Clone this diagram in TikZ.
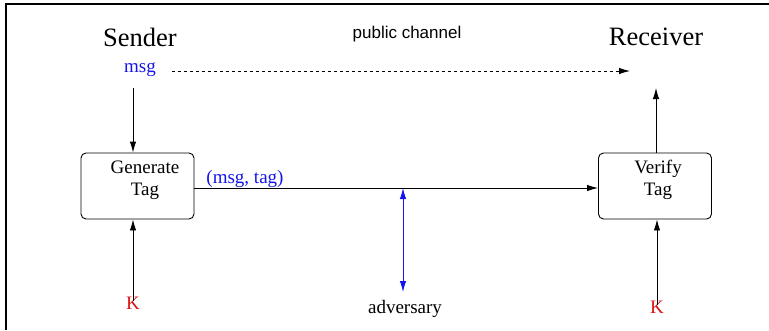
\documentclass[tikz,border=0pt]{standalone}
\usepackage{fontspec}
\setmainfont{Liberation Serif}
\newfontfamily\helv{Liberation Sans}
\usetikzlibrary{arrows.meta}
\definecolor{myblue}{RGB}{20,20,235}
\definecolor{myred}{RGB}{220,20,20}
\tikzset{
  box/.style={draw, rounded corners=5pt, line width=0.9pt, minimum width=113pt, minimum height=66pt, inner sep=0pt},
  txt/.style={font=\fontsize{19}{22}\selectfont, inner sep=0pt, align=center},
  big/.style={font=\fontsize{26.5}{30}\selectfont, inner sep=0pt},
  tip/.style={Latex[length=11pt,width=6.5pt]},
  arr/.style={line width=0.9pt, -{Latex[length=11pt,width=6.5pt]}},
}
\begin{document}
\begin{tikzpicture}[x=1pt,y=-1pt]
\useasboundingbox (0,0) rectangle (769,330);
\draw[line width=1.2pt] (6,330) -- (6,4) -- (769,4);
\node[big] (sender) at (140,37) {Sender};
\node[big] (receiver) at (656,37) {Receiver};
\node[inner sep=0pt, font=\helv\fontsize{17}{20}\selectfont] (pub) at (407,34) {public channel};
\node[txt, text=myblue] (msg) at (140,70) {msg};
\coordinate (dend) at (630,71);
\coordinate (dstart) at (172,71);
\draw[arr, dashed, dash pattern=on 3pt off 3pt] (dstart) -- (dend);
\node[box] (gen) at (137.5,186) {};
\node[txt] (gentxt) at (145,180) {Generate\\Tag};
\node[box] (ver) at (655,186) {};
\node[txt] (vertxt) at (658,180) {Verify\\Tag};
\coordinate (msgbot) at (133,88);
\draw[arr] (msgbot) -- (gen.north -| msgbot);
\node[txt, text=myred] (k1) at (133,303) {K};
\node[txt, text=myred] (k2) at (657,307) {K};
\draw[arr] ([yshift=-4pt]k1.north) -- (gen.south -| k1);
\draw[arr] ([yshift=-4pt]k2.north) -- (gen.south -| k2);
\coordinate (vtop) at (656,88);
\draw[arr] (ver.north -| vtop) -- (vtop);
\coordinate (hl) at (194,188);
\draw[arr] (hl) -- (ver.west |- hl);
\node[txt, text=myblue] (mt) at (245,179) {(msg, tag)};
\node[txt] (adv) at (405,309) {adversary};
\coordinate (at) at (403,188);
\coordinate (ab) at (403,292);
\draw[line width=0.9pt, myblue, {Latex[length=11pt,width=6.5pt]}-{Latex[length=11pt,width=6.5pt]}] (at) -- (ab);
\end{tikzpicture}
\end{document}
